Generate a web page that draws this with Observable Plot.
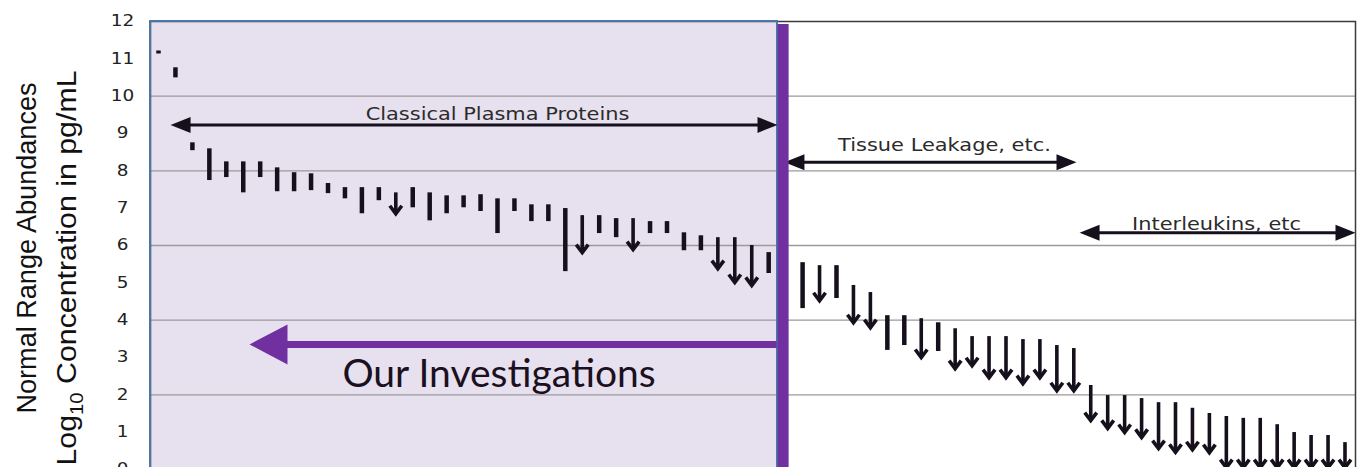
<!DOCTYPE html>
<html>
<head>
<meta charset="utf-8">
<script src="https://cdn.jsdelivr.net/npm/d3@7"></script>
<script src="https://cdn.jsdelivr.net/npm/@observablehq/plot@0.6"></script>
<style>
  html, body { margin: 0; padding: 0; background: #fff; overflow: hidden; }
  #chart svg { display: block; }
</style>
</head>
<body>
<div id="chart"></div>
<script>
// ---- data: one entry per analyte (slot = position in the ranked list, slot 38 is hidden under the divider)
const slot = [1,2,3,4,5,6,7,8,9,10,11,12,13,14,15,16,17,18,19,20,21,22,23,24,25,26,27,28,29,30,31,32,33,34,35,36,37,
  39,40,41,42,43,44,45,46,47,48,49,50,51,52,53,54,55,56,57,58,59,60,61,62,63,64,65,66,67,68,69,70,71];
const high = [11.21,10.76,8.75,8.59,8.24,8.24,8.24,8.08,7.95,7.92,
  7.66,7.55,7.55,7.55,7.41,7.55,7.41,7.33,7.33,7.36,
  7.25,7.25,7.09,7.09,6.99,6.80,6.80,6.72,6.72,6.64,
  6.64,6.34,6.26,6.21,6.21,6.00,5.81,
  5.54,5.46,5.46,
  4.93,4.74,4.12,4.12,4.04,3.93,3.77,3.56,3.56,3.56,
  3.48,3.48,3.32,3.24,2.25,1.98,1.98,1.90,1.79,1.79,
  1.64,1.50,1.42,1.37,1.37,1.20,0.99,0.91,0.91,0.72];
const low = [11.13,10.49,8.54,7.74,7.82,7.41,7.82,7.44,7.44,7.47,
  7.39,7.25,6.85,7.20,6.85,7.01,6.66,6.85,7.01,6.91,
  6.32,6.91,6.64,6.64,5.30,5.81,6.32,6.21,5.89,6.32,
  6.32,5.86,5.86,5.38,5.01,4.93,5.25,
  4.31,4.52,4.58,
  3.93,3.80,3.19,3.32,3.00,3.16,2.70,2.78,2.46,2.46,
  2.30,2.46,2.11,2.11,1.31,1.10,0.99,0.86,0.56,0.46,
  0.53,0.45,0.05,0.05,0.05,0.05,0.05,0.05,0.05,0.05];
// 1 = drawn as a downward arrow (upper bound), 0 = range bar
const upperBound = [0,0,0,0,0,0,0,0,0,0,0,0,0,0,1,0,0,0,0,0,0,0,0,0,0,1,0,0,1,0,0,0,0,1,1,1,0,
  0,1,0,1,1,0,0,1,0,1,1,1,1,1,1,1,1,1,1,1,1,1,1,1,1,1,1,1,1,1,1,1,1,1];

const yTicks = [0,1,2,3,4,5,6,7,8,9,10,11,12];
const gridValues = [2,4,6,8,10];
const yTitle = ["Normal Range Abundances", "Log10 Concentration in pg/mL"];

const groupLabel = ["Classical Plasma Proteins", "Tissue Leakage, etc.", "Interleukins, etc"];
const groupFrom = [1.71, 37.93, 55.34];
const groupTo = [37.52, 55.16, 71.62];
const groupLevel = [9.23, 8.23, 6.34];
const groupLabelAt = [21.0, 47.37, 63.42];
const groupLabelLevel = [9.37, 8.54, 6.42];

const investigationLabel = ["Our Investigations"];
const investigationFrom = [37.5];
const investigationTo = [6.37];
const investigationLevel = [3.35];
const investigationLabelAt = [21.09];
const investigationLabelLevel = [2.22];
const highlightEnd = 37.52;
const dividerAt = 37.85;
const dividerTop = 11.92;

// ---- styling helpers
const xDomain = [0.528, 71.62];
const ink = "#15101c";
const purple = "#7030A0";
const chevron = {draw(ctx) { ctx.moveTo(-6, -8); ctx.lineTo(0, 0); ctx.lineTo(6, -8); }};
const head = (len, half, dir) => ({draw(ctx) {
  ctx.moveTo(0, 0); ctx.lineTo(dir * len, -half); ctx.lineTo(dir * len, half); ctx.closePath();
}});
const headLeft = head(20, 8, 1), headRight = head(20, 8, -1), bigHeadLeft = head(38, 20, 1);

const idx = d3.range(slot.length);
const rangeIdx = idx.filter(i => !upperBound[i]);
const arrowIdx = idx.filter(i => upperBound[i]);
const gIdx = d3.range(groupLabel.length);

const titleFont = "Liberation Sans, Arial, sans-serif";

const svg = Plot.plot({
  width: 1357, height: 469,
  marginLeft: 150, marginRight: 2, marginTop: 21, marginBottom: 0,
  x: {domain: xDomain, axis: null},
  y: {domain: [0, 12], label: null},
  style: {background: "#fff", overflow: "hidden"},
  marks: [
    // highlighted region
    Plot.rect([0], {x1: () => xDomain[0], x2: () => highlightEnd, y1: () => 0, y2: () => 12, fill: "#E7E0EF"}),
    Plot.ruleY(gridValues, {stroke: "#9a9a9a", strokeWidth: 1.3}),
    Plot.frame({stroke: "#3a3a3a", strokeWidth: 1.5}),
    Plot.rect([0], {x1: () => xDomain[0], x2: () => highlightEnd, y1: () => 0, y2: () => 12, fill: "none", stroke: "#4A76A8", strokeWidth: 2}),
    Plot.axisY(yTicks, {tickSize: 0, tickPadding: 28, textAnchor: "middle", fontSize: 15, fontFamily: "DejaVu Sans", fill: "#222", label: null}),
    // y title
    Plot.text([yTitle[0]], {text: d => d, frameAnchor: "left", textAnchor: "middle", rotate: -90, dx: -115, dy: 2.5, lineAnchor: "bottom",
      fontSize: 27, fontFamily: titleFont, fill: "#111"}),
    Plot.text([yTitle[1]], {text: d => d, frameAnchor: "left", textAnchor: "middle", rotate: -90, dx: -75, dy: 22.5, lineAnchor: "bottom",
      fontSize: 27, fontFamily: titleFont, fill: "#111"}),
    // group annotations
    Plot.ruleY(gIdx, {y: i => groupLevel[i], x1: i => groupFrom[i] + 0.5, x2: i => groupTo[i] - 0.5, stroke: ink, strokeWidth: 3}),
    Plot.dot(gIdx, {x: i => groupFrom[i], y: i => groupLevel[i], symbol: headLeft, fill: ink, stroke: "none"}),
    Plot.dot(gIdx, {x: i => groupTo[i], y: i => groupLevel[i], symbol: headRight, fill: ink, stroke: "none"}),
    Plot.text(gIdx, {x: i => groupLabelAt[i], y: i => groupLabelLevel[i], text: i => groupLabel[i], lineAnchor: "bottom",
      fontSize: 17, fontFamily: "DejaVu Sans", fill: "#2b2b2b"}),
    // analytes
    Plot.ruleX(rangeIdx, {x: i => slot[i], y1: i => low[i], y2: i => high[i], stroke: ink, strokeWidth: 4.5}),
    Plot.ruleX(arrowIdx, {x: i => slot[i], y1: i => low[i], y2: i => high[i], stroke: ink, strokeWidth: 3.6}),
    Plot.dot(arrowIdx, {x: i => slot[i], y: i => low[i], symbol: chevron, fill: "none", stroke: ink, strokeWidth: 3.6, strokeLinejoin: "miter"}),
    // divider and "Our Investigations" arrow
    Plot.ruleX([dividerAt], {y1: 0, y2: dividerTop, stroke: purple, strokeWidth: 11}),
    Plot.ruleY([0], {y: () => investigationLevel[0], x1: () => investigationTo[0] + 1, x2: () => investigationFrom[0], stroke: purple, strokeWidth: 7}),
    Plot.dot([0], {x: () => investigationTo[0], y: () => investigationLevel[0], symbol: bigHeadLeft, fill: purple, stroke: "none"}),
    Plot.text(investigationLabel, {x: () => investigationLabelAt[0], y: () => investigationLabelLevel[0], text: d => d, lineAnchor: "bottom",
      fontSize: 39, fontFamily: "Lato", fill: "#1b1020"})
  ]
});
document.getElementById("chart").append(svg);

// the source image is stretched horizontally: widen its horizontal texts
const stretch = 1.23;
d3.select(svg).selectAll("text").each(function() {
  const s = this.textContent;
  const isTick = /^\d+$/.test(s);
  const isGroup = groupLabel.includes(s);
  if (isTick || isGroup) {
    const w = this.getComputedTextLength();
    if (w > 0) {
      this.setAttribute("textLength", (w * stretch).toFixed(1));
      this.setAttribute("lengthAdjust", "spacingAndGlyphs");
    }
  } else if (s === yTitle[1]) {
    this.textContent = "";
    const t = d3.select(this);
    t.append("tspan").text("Log");
    t.append("tspan").attr("dy", 7).attr("font-size", 18).text("10");
    t.append("tspan").attr("dy", -7).text(s.slice(5));
    this.setAttribute("textLength", 395);
    this.setAttribute("lengthAdjust", "spacingAndGlyphs");
  } else if (s === yTitle[0]) {
    this.setAttribute("textLength", 331);
    this.setAttribute("lengthAdjust", "spacingAndGlyphs");
  }
});
</script>
</body>
</html>
